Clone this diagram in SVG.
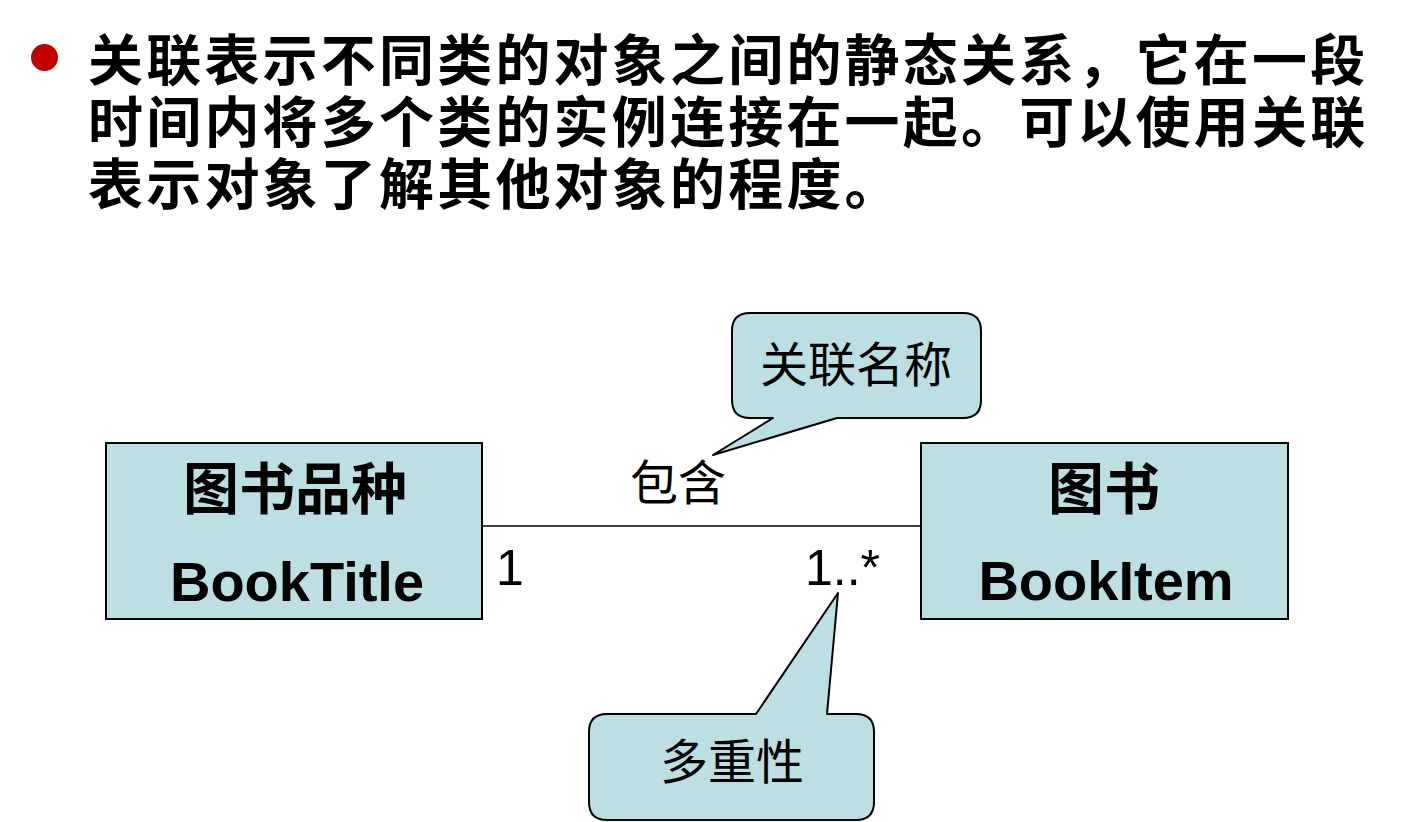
<svg xmlns="http://www.w3.org/2000/svg" width="1406" height="822" viewBox="0 0 1406 822">
<style>
.title{font-family:"Liberation Sans","Noto Sans CJK SC",sans-serif;font-weight:700;font-size:55px;letter-spacing:3.2px;fill:#000}
.cls{fill:#BBDFE3;stroke:#000;stroke-width:2}
.cjkb{font-family:"Liberation Sans","Noto Sans CJK SC",sans-serif;font-weight:700;font-size:56px;fill:#000;text-anchor:middle}
.latb{font-family:"Liberation Sans","Noto Sans CJK SC",sans-serif;font-weight:700;font-size:56px;fill:#000;text-anchor:middle}
.lbl{font-family:"Liberation Sans","Noto Sans CJK SC",sans-serif;font-size:48px;fill:#000}
.mult{font-family:"Liberation Sans",sans-serif;font-size:50px;fill:#000}
.call{fill:#BBDFE3;stroke:#000;stroke-width:2;stroke-linejoin:round}
</style>
<rect width="1406" height="822" fill="#fff"/>
<g id="title">
<circle cx="44.5" cy="57.5" r="13.5" fill="#C00000"/>
<text class="title" x="88" y="80">关联表示不同类的对象之间的静态关系，它在一段</text>
<text class="title" x="88" y="142">时间内将多个类的实例连接在一起。可以使用关联</text>
<text class="title" x="88" y="204">表示对象了解其他对象的程度。</text>
</g>
<g id="connectors">
<line x1="483" y1="526" x2="921" y2="526" stroke="#000" stroke-width="1.6"/>
<text class="lbl" x="678" y="500" text-anchor="middle">包含</text>
<text class="mult" x="496" y="585">1</text>
<text class="mult" x="805" y="585">1..*</text>
</g>
<g id="node-booktitle">
<rect class="cls" x="106" y="443" width="376" height="176"/>
<text class="cjkb" x="295" y="509">图书品种</text>
<text class="latb" x="297" y="601">BookTitle</text>
</g>
<g id="node-bookitem">
<rect class="cls" x="921" y="443" width="367" height="176"/>
<text class="cjkb" x="1104" y="509">图书</text>
<text class="latb" x="1106" y="600">BookItem</text>
</g>
<g id="callout-name">
<path class="call" d="M750,313 H963 Q981,313 981,331 V400 Q981,418 963,418 H837 L713,455 L773,418 H750 Q732,418 732,400 V331 Q732,313 750,313 Z"/>
<text class="lbl" x="856" y="382" text-anchor="middle">关联名称</text>
</g>
<g id="callout-mult">
<path class="call" d="M607,714 H756 L838,593 L827,714 H856 Q874,714 874,732 V802 Q874,820 856,820 H607 Q589,820 589,802 V732 Q589,714 607,714 Z"/>
<text class="lbl" x="732" y="779" text-anchor="middle">多重性</text>
</g>
</svg>
